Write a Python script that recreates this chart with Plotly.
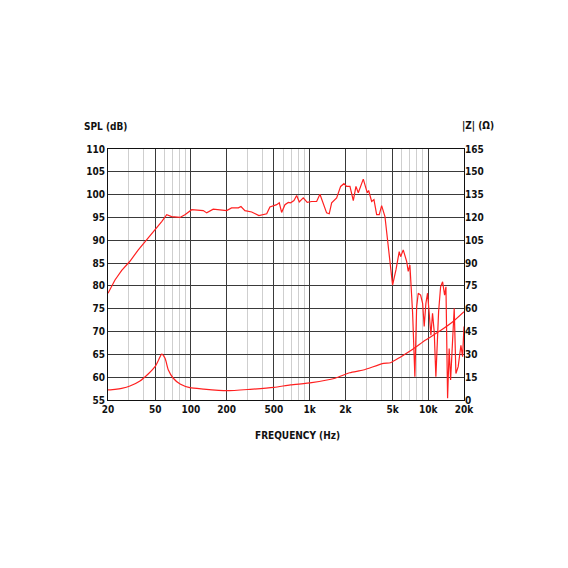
"""Frequency response + impedance chart (SPL / |Z|)."""

import plotly.graph_objects as go

# SPL curve
spl_freq = [
    20, 22.9, 26.1, 30.6, 36, 42.4, 49.8, 56.7, 62.5, 68.8,
    80.8, 89, 101.5, 127, 135.8, 154, 200, 220, 251, 264,
    285, 325, 374, 435, 463, 510, 528, 555, 581, 620,
    661, 692, 738, 778, 818, 884, 955, 1040, 1146, 1222,
    1304, 1391, 1463, 1534, 1690, 1826, 1946, 2052, 2188, 2334,
    2458, 2571, 2833, 3062, 3143, 3333, 3485, 3673, 3862, 4046,
    4314, 4590, 5000, 5340, 5690, 5850, 6150, 6570, 6780, 7000,
    7200, 7380, 7710, 7980, 8230, 8620, 8960, 9240, 9550, 9860,
    10180, 10520, 10860, 11220, 11590, 12220, 12700, 13200, 13730, 14090,
    14550, 15000, 15420, 15820, 16540, 17090, 17870, 18840, 19460, 20000,
]
spl_db = [
    78.4, 81.3, 83.4, 85.4, 87.9, 90.1, 92.2, 94.1, 95.6, 95.2,
    95.0, 95.6, 96.7, 96.5, 96.0, 96.8, 96.5, 97.1, 97.1, 97.4,
    96.5, 96.2, 95.4, 95.8, 97.3, 97.6, 97.8, 98.2, 96.1, 97.8,
    98.3, 98.2, 98.7, 99.8, 98.4, 99.3, 98.3, 98.5, 98.5, 100.1,
    98.0, 96.0, 95.8, 98.2, 99.3, 101.8, 102.4, 101.8, 101.8, 98.7,
    101.8, 100.4, 103.4, 100.4, 100.9, 98.5, 98.9, 95.6, 95.6, 97.6,
    95.2, 89.4, 80.2, 83.5, 87.5, 86.4, 87.9, 85.4, 83.2, 84.6,
    79.9, 74.0, 60.1, 75.4, 78.4, 78.0, 76.2, 71.1, 76.2, 78.4,
    74.0, 69.2, 74.0, 70.0, 60.1, 74.4, 79.8, 80.9, 78.0, 79.8,
    55.4, 66.3, 59.4, 66.3, 75.1, 60.8, 62.3, 67.0, 64.5, 71.1,
]

# impedance curve (ohms)
imp_freq = [
    20, 22.9, 26.1, 30.6, 37.2, 43.6, 49.8, 53.5, 56.7, 60.5,
    64.5, 71, 81, 98, 127, 200, 315, 500, 688, 1040,
    1640, 2180, 2830, 4200, 4800, 5760, 7400, 9500, 12500, 16100, 20000,
]
imp_ohm = [
    6.6, 7.0, 7.7, 9.2, 12.5, 17.1, 21.9, 26.5, 30.2, 27.4,
    19.7, 14.3, 10.5, 8.1, 7.2, 6.1, 7.0, 8.3, 9.9, 11.4,
    14.3, 17.9, 19.7, 24.1, 24.5, 28.0, 33.3, 39.4, 45.3, 51.4, 58.0,
]

x_major = [20, 50, 100, 200, 500, 1000, 2000, 5000, 10000, 20000]
x_labels = ["20", "50", "100", "200", "500", "1k", "2k", "5k", "10k", "20k"]
x_minor = [30, 40, 60, 70, 80, 90, 300, 400, 600, 700, 800, 900,
           3000, 4000, 6000, 7000, 8000, 9000]
spl_ticks = list(range(55, 111, 5))
imp_ticks = list(range(0, 166, 15))

RED = "#ff2020"
DARK = "#3a3a3a"
LIGHT = "#cfcfcf"
FONT = "DejaVu Sans Condensed, Liberation Sans Narrow, Roboto, sans-serif"

fig = go.Figure()
fig.add_trace(go.Scatter(x=spl_freq, y=spl_db, mode="lines",
                         line=dict(color=RED, width=1.2), name="SPL"))
fig.add_trace(go.Scatter(x=imp_freq, y=imp_ohm, mode="lines", yaxis="y2",
                         line=dict(color=RED, width=1.2, shape="spline", smoothing=0.6),
                         name="|Z|"))

tickfont = dict(family=FONT, size=10, color="#111", weight="bold")
labelfont = dict(family=FONT, size=10, color="#111", weight="bold")

# page body has an 8px margin, so the figure is offset by 8px
fig.update_layout(
    width=568, height=568,
    margin=dict(l=100, r=112, t=141, b=176),
    paper_bgcolor="white", plot_bgcolor="white",
    showlegend=False,
    font=dict(family=FONT, color="#111"),
    xaxis=dict(
        type="log", range=[1.30103, 4.30103],
        tickmode="array", tickvals=x_major, ticktext=x_labels,
        showgrid=True, gridcolor=DARK, gridwidth=1,
        minor=dict(tickmode="array", tickvals=x_minor, showgrid=True,
                   gridcolor=LIGHT, gridwidth=1, ticks=""),
        showline=True, linecolor="#111", linewidth=1, mirror=True,
        ticks="", tickfont=tickfont, zeroline=False,
    ),
    yaxis=dict(
        range=[55, 110], tickvals=spl_ticks,
        showgrid=True, gridcolor=DARK, gridwidth=1,
        showline=True, linecolor="#111", linewidth=1, mirror=True,
        ticks="", tickfont=tickfont, zeroline=False,
    ),
    yaxis2=dict(
        range=[0, 165], tickvals=imp_ticks, overlaying="y", side="right",
        showgrid=False, showline=False, ticks="", tickfont=tickfont,
        zeroline=False,
    ),
    annotations=[
        dict(text="SPL (dB)", xref="paper", yref="paper", x=-0.072, y=1.058,
             xanchor="left", yanchor="bottom", showarrow=False, font=labelfont),
        dict(text="|Z| (Ω)", xref="paper", yref="paper", x=0.99, y=1.058,
             xanchor="left", yanchor="bottom", showarrow=False, font=labelfont),
        dict(text="FREQUENCY (Hz)", xref="paper", yref="paper", x=0.531, y=-0.14,
             xanchor="center", yanchor="middle", showarrow=False, font=labelfont),
    ],
)

fig.write_html("out.html")
